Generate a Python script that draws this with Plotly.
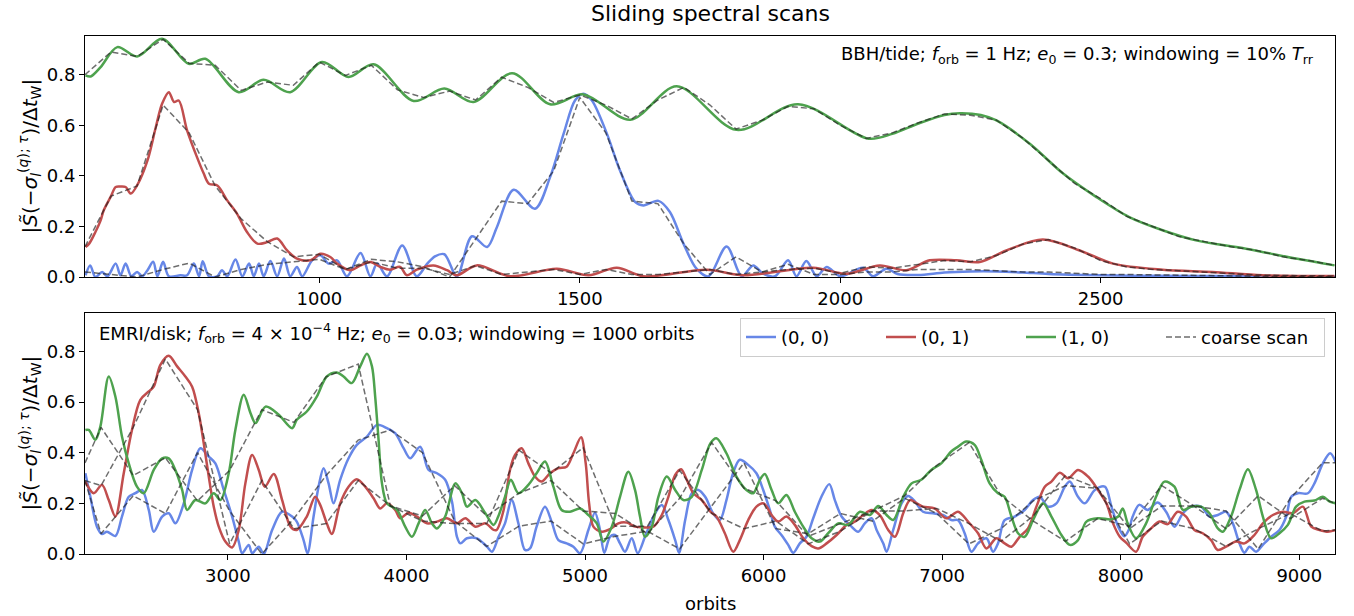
import plotly.graph_objects as go

# ---------------- data: top panel (BBH/tide) ----------------
top_00 = [(551,0.007),(560,0.046),(570,0.0),(583,0.02),(593,0.003),(609,0.053),(618,0.007),(628,0.053),
          (639,0.003),(650,0.02),(660,0.003),(670,0.027),(681,0.06),(689,0.003),(700,0.06),(711,0.003),
          (733,0.007),(746,0.007),(759,0.053),(769,0.003),(776,0.062),(788,0.003),(804,0.003),(813,0.027),
          (823,0.003),(839,0.069),(852,0.003),(865,0.053),(874,0.003),(884,0.053),(893,0.003),(906,0.063),
          (919,0.003),(932,0.073),(944,0.003),(957,0.04),(967,0.003),(986,0.066),(1002,0.086),(1018,0.053),
          (1034,0.066),(1053,0.003),(1079,0.095),(1098,0.003),(1111,0.053),(1130,0.003),(1159,0.125),
          (1187,0.003),(1207,0.053),(1222,0.082),(1240,0.09),(1264,0.003),(1293,0.161),(1322,0.119),
          (1341,0.198),(1373,0.345),(1414,0.270),(1443,0.395),(1469,0.567),(1491,0.699),(1507,0.725),
          (1523,0.699),(1552,0.567),(1577,0.422),(1606,0.297),(1622,0.283),(1651,0.301),(1673,0.257),
          (1699,0.132),(1724,0.033),(1747,0.003),(1782,0.121),(1811,0.003),(1833,0.046),(1852,0.013),
          (1875,0.003),(1900,0.066),(1916,0.003),(1935,0.063),(1955,0.003),(1974,0.040),(2000,0.003),
          (2044,0.037),(2063,0.003),(2089,0.033),(2110,0.012),(2150,0.008),(2200,0.018),(2250,0.022),
          (2300,0.022),(2350,0.018),(2400,0.012),(2500,0.007),(2600,0.005),(2750,0.004),(2950,0.001)]
top_01 = [(551,0.119),(558,0.132),(570,0.178),(580,0.224),(586,0.264),(599,0.316),(609,0.356),(618,0.358),
          (628,0.356),(638,0.330),(650,0.362),(670,0.461),(686,0.593),(698,0.685),(711,0.731),(721,0.692),
          (730,0.698),(746,0.580),(765,0.474),(778,0.409),(788,0.369),(804,0.362),(823,0.303),(842,0.250),
          (861,0.178),(881,0.132),(900,0.138),(919,0.152),(938,0.105),(957,0.073),(983,0.066),(1002,0.092),
          (1021,0.079),(1034,0.053),(1059,0.027),(1079,0.046),(1098,0.059),(1117,0.040),(1136,0.029),
          (1155,0.040),(1168,0.007),(1187,0.029),(1219,0.046),(1245,0.027),(1264,0.007),(1302,0.046),
          (1366,0.003),(1456,0.033),(1517,0.007),(1571,0.037),(1622,0.003),(1744,0.029),(1814,0.007),
          (1948,0.037),(2012,0.013),(2076,0.046),(2127,0.027),(2172,0.066),(2223,0.066),(2268,0.059),
          (2319,0.105),(2389,0.148),(2460,0.105),(2524,0.053),(2619,0.029),(2715,0.020),(2811,0.007),
          (2949,0.004)]
top_10 = [(551,0.797),(561,0.793),(580,0.83),(612,0.909),(650,0.872),(698,0.942),(749,0.843),(781,0.863),
          (845,0.731),(893,0.780),(944,0.731),(1005,0.850),(1056,0.791),(1104,0.841),(1181,0.696),
          (1240,0.745),(1296,0.692),(1370,0.806),(1443,0.683),(1507,0.722),(1597,0.622),(1686,0.754),
          (1801,0.582),(1919,0.683),(2054,0.547),(2100,0.566),(2150,0.607),(2200,0.641),(2230,0.648),
          (2270,0.641),(2300,0.619),(2364,0.527),(2428,0.409),(2492,0.316),(2555,0.237),(2619,0.185),
          (2683,0.145),(2779,0.112),(2875,0.073),(2949,0.046)]
top_coarse_x = list(range(550, 2951, 50))
top_coarse_00 = [0.02,0.01,0.0,0.03,0.055,0.0,0.03,0.05,0.06,0.07,0.03,0.07,0.06,0.04,0.0,0.15,0.30,0.29,
                 0.42,0.71,0.57,0.30,0.29,0.13,0.01,0.08,0.02,0.05,0.01,0.01,0.02,0.02,0.03,0.03,0.03,
                 0.025,0.02,0.02,0.015,0.01,0.01,0.008,0.006,0.005,0.004,0.003,0.002,0.001,0.001]
top_coarse_01 = [0.12,0.32,0.36,0.68,0.57,0.36,0.23,0.14,0.08,0.09,0.03,0.06,0.035,0.035,0.01,0.045,0.01,
                 0.02,0.03,0.01,0.03,0.01,0.01,0.02,0.03,0.01,0.02,0.03,0.035,0.015,0.04,0.035,0.05,
                 0.065,0.06,0.085,0.13,0.148,0.115,0.065,0.04,0.03,0.025,0.02,0.013,0.008,0.006,0.005,0.004]
top_coarse_10 = [0.80,0.89,0.872,0.94,0.845,0.837,0.738,0.771,0.758,0.85,0.797,0.837,0.74,0.71,0.735,0.70,
                 0.79,0.75,0.69,0.72,0.68,0.625,0.70,0.75,0.68,0.585,0.62,0.675,0.665,0.60,0.548,0.57,
                 0.61,0.645,0.64,0.62,0.55,0.46,0.37,0.31,0.24,0.20,0.16,0.14,0.12,0.105,0.08,0.065,0.046]

# ---------------- data: bottom panel (EMRI/disk) ----------------
bot_00 = [(2202,0.319),(2230,0.226),(2267,0.108),(2295,0.079),(2323,0.088),(2370,0.071),(2407,0.148),
          (2445,0.226),(2482,0.240),(2519,0.253),(2557,0.174),(2585,0.088),(2632,0.148),(2669,0.161),
          (2706,0.121),(2753,0.200),(2800,0.332),(2846,0.418),(2893,0.385),(2930,0.358),(2977,0.253),
          (3024,0.148),(3061,0.049),(3080,0.003),(3117,0.036),(3136,0.003),(3173,0.029),(3201,0.0),
          (3248,0.095),(3304,0.167),(3360,0.148),(3386,0.128),(3424,0.055),(3446,0.003),(3480,0.148),
          (3508,0.266),(3536,0.339),(3564,0.279),(3592,0.200),(3629,0.293),(3676,0.378),(3722,0.431),
          (3779,0.464),(3835,0.510),(3891,0.497),(3937,0.477),(3984,0.418),(4021,0.378),(4077,0.424),
          (4124,0.332),(4171,0.319),(4217,0.293),(4255,0.207),(4283,0.068),(4302,0.042),(4339,0.062),
          (4395,0.062),(4451,0.029),(4479,0.009),(4516,0.068),(4552,0.121),(4589,0.213),(4627,0.121),
          (4664,0.016),(4692,0.022),(4729,0.108),(4776,0.187),(4813,0.128),(4851,0.055),(4897,0.042),
          (4935,0.029),(4972,0.003),(5019,0.095),(5056,0.163),(5084,0.095),(5108,0.005),(5140,0.068),
          (5168,0.075),(5196,0.042),(5224,0.009),(5262,0.062),(5295,0.003),(5336,0.068),(5383,0.148),
          (5430,0.194),(5467,0.134),(5505,0.055),(5527,0.005),(5561,0.134),(5598,0.240),(5635,0.253),
          (5673,0.226),(5717,0.161),(5755,0.134),(5792,0.213),(5829,0.319),(5867,0.372),(5914,0.352),
          (5960,0.319),(5998,0.253),(6035,0.174),(6063,0.108),(6100,0.075),(6138,0.036),(6166,0.005),
          (6203,0.042),(6240,0.068),(6278,0.141),(6324,0.226),(6368,0.276),(6399,0.213),(6437,0.148),
          (6483,0.115),(6530,0.088),(6567,0.121),(6605,0.141),(6633,0.095),(6670,0.042),(6689,0.009),
          (6726,0.095),(6773,0.200),(6810,0.229),(6848,0.207),(6893,0.167),(6949,0.161),(7005,0.154),
          (7051,0.134),(7089,0.134),(7126,0.082),(7164,0.009),(7201,0.042),(7248,0.062),(7285,0.009),
          (7313,0.042),(7350,0.134),(7406,0.148),(7462,0.174),(7509,0.213),(7547,0.226),(7593,0.187),
          (7640,0.200),(7687,0.266),(7715,0.286),(7761,0.226),(7799,0.200),(7855,0.253),(7911,0.266),
          (7948,0.187),(7986,0.108),(8020,0.070),(8045,0.095),(8067,0.148),(8104,0.194),(8151,0.174),
          (8207,0.203),(8254,0.167),(8301,0.108),(8348,0.161),(8394,0.187),(8450,0.187),(8497,0.148),
          (8544,0.154),(8590,0.167),(8628,0.121),(8665,0.042),(8693,0.005),(8721,0.029),(8758,0.009),
          (8796,0.036),(8842,0.068),(8889,0.095),(8927,0.148),(8955,0.226),(8992,0.240),(9048,0.240),
          (9085,0.279),(9132,0.358),(9173,0.398),(9207,0.358)]
bot_01 = [(2202,0.286),(2249,0.240),(2295,0.273),(2333,0.213),(2370,0.148),(2417,0.319),(2463,0.490),
          (2510,0.609),(2557,0.642),(2585,0.661),(2622,0.747),(2669,0.783),(2716,0.741),(2762,0.701),
          (2800,0.661),(2837,0.556),(2865,0.437),(2893,0.306),(2921,0.187),(2949,0.108),(2986,0.049),
          (3024,0.026),(3061,0.095),(3098,0.279),(3136,0.391),(3173,0.332),(3207,0.266),(3257,0.316),
          (3304,0.213),(3351,0.108),(3386,0.095),(3442,0.148),(3489,0.226),(3517,0.194),(3554,0.121),
          (3582,0.079),(3629,0.200),(3676,0.266),(3722,0.295),(3769,0.266),(3816,0.220),(3853,0.180),
          (3891,0.200),(3937,0.174),(3965,0.141),(4012,0.163),(4059,0.148),(4115,0.121),(4171,0.128),
          (4227,0.141),(4283,0.121),(4330,0.141),(4386,0.108),(4442,0.121),(4488,0.095),(4505,0.095),
          (4543,0.170),(4580,0.332),(4608,0.391),(4645,0.418),(4683,0.358),(4720,0.306),(4757,0.286),
          (4804,0.319),(4851,0.339),(4897,0.345),(4935,0.398),(4978,0.461),(5004,0.358),(5023,0.200),
          (5047,0.108),(5094,0.088),(5140,0.098),(5187,0.121),(5234,0.124),(5280,0.108),(5336,0.105),
          (5383,0.108),(5430,0.154),(5467,0.226),(5505,0.312),(5538,0.335),(5570,0.293),(5607,0.240),
          (5654,0.213),(5702,0.167),(5736,0.148),(5783,0.082),(5830,0.009),(5867,0.055),(5914,0.134),
          (5960,0.187),(6001,0.200),(6045,0.154),(6082,0.128),(6128,0.148),(6175,0.115),(6222,0.062),
          (6269,0.031),(6306,0.022),(6353,0.042),(6409,0.075),(6465,0.115),(6511,0.128),(6558,0.154),
          (6605,0.174),(6651,0.154),(6698,0.095),(6736,0.068),(6782,0.161),(6820,0.213),(6858,0.200),
          (6893,0.187),(6958,0.180),(7023,0.141),(7089,0.167),(7145,0.128),(7201,0.082),(7248,0.022),
          (7304,0.062),(7350,0.042),(7388,0.029),(7434,0.068),(7481,0.101),(7528,0.187),(7575,0.266),
          (7612,0.286),(7659,0.321),(7705,0.299),(7761,0.332),(7817,0.306),(7873,0.253),(7920,0.200),
          (7957,0.121),(7995,0.068),(8030,0.045),(8086,0.009),(8123,0.068),(8170,0.101),(8217,0.128),
          (8263,0.118),(8319,0.167),(8366,0.148),(8413,0.095),(8459,0.082),(8506,0.055),(8543,0.016),
          (8590,0.029),(8646,0.049),(8693,0.042),(8749,0.075),(8796,0.121),(8852,0.154),(8908,0.167),
          (8964,0.161),(9020,0.187),(9067,0.108),(9113,0.095),(9160,0.088),(9207,0.095)]
bot_10 = [(2202,0.490),(2221,0.490),(2258,0.451),(2286,0.503),(2333,0.701),(2370,0.622),(2407,0.464),
          (2445,0.358),(2491,0.266),(2529,0.240),(2585,0.332),(2632,0.378),(2669,0.378),(2706,0.332),
          (2744,0.253),(2772,0.174),(2818,0.213),(2874,0.200),(2921,0.240),(2958,0.213),(3005,0.319),
          (3042,0.490),(3089,0.629),(3127,0.556),(3155,0.517),(3211,0.582),(3285,0.550),(3360,0.497),
          (3386,0.530),(3442,0.563),(3498,0.622),(3554,0.701),(3610,0.717),(3648,0.701),(3694,0.675),
          (3741,0.741),(3779,0.791),(3807,0.741),(3825,0.622),(3844,0.451),(3863,0.279),(3891,0.200),
          (3947,0.174),(3993,0.108),(4031,0.068),(4068,0.121),(4105,0.174),(4143,0.121),(4171,0.101),
          (4217,0.148),(4274,0.279),(4311,0.240),(4339,0.187),(4386,0.213),(4442,0.161),(4488,0.115),
          (4514,0.148),(4552,0.226),(4585,0.293),(4627,0.240),(4683,0.273),(4729,0.319),(4776,0.365),
          (4823,0.266),(4869,0.174),(4916,0.167),(4972,0.180),(5019,0.154),(5066,0.121),(5103,0.049),
          (5150,0.108),(5196,0.226),(5243,0.325),(5280,0.253),(5308,0.148),(5336,0.068),(5374,0.108),
          (5411,0.226),(5458,0.306),(5505,0.253),(5551,0.213),(5598,0.226),(5654,0.332),(5702,0.437),
          (5736,0.457),(5792,0.398),(5848,0.306),(5904,0.253),(5942,0.240),(5979,0.293),(6007,0.316),
          (6045,0.253),(6082,0.200),(6128,0.233),(6175,0.167),(6222,0.108),(6269,0.062),(6315,0.049),
          (6362,0.082),(6418,0.121),(6474,0.115),(6540,0.167),(6595,0.154),(6642,0.190),(6689,0.154),
          (6726,0.134),(6782,0.226),(6829,0.279),(6883,0.293),(6939,0.332),(6995,0.358),(7051,0.405),
          (7089,0.424),(7135,0.444),(7182,0.431),(7219,0.372),(7266,0.279),(7313,0.240),(7350,0.226),
          (7388,0.148),(7425,0.082),(7462,0.068),(7509,0.134),(7565,0.200),(7612,0.148),(7668,0.075),
          (7715,0.036),(7761,0.055),(7808,0.128),(7873,0.141),(7948,0.137),(7986,0.148),(8011,0.180),
          (8039,0.121),(8086,0.062),(8142,0.121),(8198,0.226),(8245,0.286),(8301,0.266),(8348,0.174),
          (8394,0.187),(8450,0.187),(8497,0.161),(8544,0.101),(8572,0.088),(8618,0.148),(8665,0.253),
          (8712,0.335),(8758,0.253),(8796,0.148),(8842,0.062),(8889,0.082),(8936,0.115),(8982,0.187),
          (9029,0.207),(9085,0.211),(9132,0.226),(9170,0.207),(9207,0.200)]
bot_coarse_x = [2200] + list(range(2290, 9131, 180)) + [9200]
bot_coarse_00 = [0.29,0.08,0.23,0.16,0.40,0.17,0.0,0.14,0.31,0.45,0.49,0.40,0.13,0.03,0.11,0.13,0.04,
                 0.07,0.09,0.02,0.19,0.36,0.10,0.08,0.16,0.13,0.22,0.16,0.04,0.10,0.21,0.27,0.26,0.10,
                 0.19,0.19,0.17,0.02,0.22,0.36,0.36]
bot_coarse_01 = [0.29,0.27,0.50,0.77,0.57,0.04,0.29,0.10,0.12,0.29,0.19,0.13,0.12,0.12,0.41,0.32,0.42,
                 0.11,0.11,0.33,0.16,0.10,0.13,0.04,0.09,0.17,0.17,0.18,0.12,0.05,0.15,0.31,0.26,0.04,
                 0.13,0.10,0.03,0.10,0.16,0.09,0.095]
bot_coarse_10 = [0.36,0.50,0.31,0.38,0.21,0.33,0.57,0.52,0.70,0.75,0.19,0.15,0.27,0.15,0.24,0.29,0.17,
                 0.16,0.08,0.22,0.44,0.26,0.21,0.07,0.12,0.17,0.23,0.35,0.44,0.23,0.13,0.05,0.14,0.11,
                 0.27,0.19,0.10,0.23,0.14,0.22,0.20]

mode_labels = ["(0, 0)", "(0, 1)", "(1, 0)"]
mode_colors = ["#6787e7", "#c14e4e", "#4ea24e"]
coarse_color = "rgba(30,30,30,0.65)"

FONT = "DejaVu Sans, Liberation Sans, sans-serif"
FS = 18

fig = go.Figure()

def xs(pairs):
    return [p[0] for p in pairs]

def ys(pairs):
    return [p[1] for p in pairs]

# top panel
for pairs, lab, col in zip([top_00, top_01, top_10], mode_labels, mode_colors):
    fig.add_trace(go.Scatter(x=xs(pairs), y=ys(pairs), mode="lines", name=lab,
                             line=dict(color=col, width=2.5, shape="spline", smoothing=0.9),
                             xaxis="x", yaxis="y", showlegend=False))
for vals in [top_coarse_00, top_coarse_01, top_coarse_10]:
    fig.add_trace(go.Scatter(x=top_coarse_x, y=vals, mode="lines", name="coarse scan",
                             line=dict(color=coarse_color, width=1.5, dash="6px,3px"),
                             xaxis="x", yaxis="y", showlegend=False))

# bottom panel
for pairs, lab, col in zip([bot_00, bot_01, bot_10], mode_labels, mode_colors):
    fig.add_trace(go.Scatter(x=xs(pairs), y=ys(pairs), mode="lines", name=lab,
                             line=dict(color=col, width=2.5, shape="spline", smoothing=0.9),
                             xaxis="x2", yaxis="y2", showlegend=True))
for i, vals in enumerate([bot_coarse_00, bot_coarse_01, bot_coarse_10]):
    fig.add_trace(go.Scatter(x=bot_coarse_x, y=vals, mode="lines", name="coarse scan",
                             line=dict(color=coarse_color, width=1.5, dash="6px,3px"),
                             xaxis="x2", yaxis="y2", showlegend=(i == 0), legendwidth=118))

axis_common = dict(showline=True, linecolor="black", linewidth=1, mirror=True,
                   ticks="outside", ticklen=5, tickwidth=1, tickcolor="black",
                   showgrid=False, zeroline=False,
                   tickfont=dict(family=FONT, size=FS, color="black"))

fig.update_layout(
    width=1354, height=616,
    margin=dict(l=85, r=19, t=36, b=62),
    paper_bgcolor="white", plot_bgcolor="white",
    font=dict(family=FONT, size=FS, color="black"),
    xaxis=dict(domain=[0, 1], anchor="y", range=[550, 2950],
               tickvals=[1000, 1500, 2000, 2500], **axis_common),
    yaxis=dict(domain=[0.5347, 1], anchor="x", range=[0, 0.953],
               tickvals=[0, 0.2, 0.4, 0.6, 0.8], tickformat=".1f", **axis_common),
    xaxis2=dict(domain=[0, 1], anchor="y2", range=[2200, 9200],
                tickvals=[3000, 4000, 5000, 6000, 7000, 8000, 9000], **axis_common),
    yaxis2=dict(domain=[0, 0.4653], anchor="x2", range=[0, 0.952],
                tickvals=[0, 0.2, 0.4, 0.6, 0.8], tickformat=".1f", **axis_common),
    legend=dict(orientation="h", x=0.992, xanchor="right", y=0.456, yanchor="top",
                bgcolor="rgba(255,255,255,0.8)", bordercolor="#cccccc", borderwidth=1,
                font=dict(family=FONT, size=FS, color="black"),
                entrywidth=95, entrywidthmode="pixels", itemwidth=30,
                traceorder="normal"),
    showlegend=True,
)

ylab = ("|<i>S̃</i>(−<i>σ</i><sub><i>l</i></sub><sup>(<i>q</i>); <i>τ</i></sup>)/Δ<i>t</i><sub>W</sub>|")
fig.add_annotation(text="Sliding spectral scans", xref="paper", yref="paper", x=0.5, y=1.0425,
                   showarrow=False, xanchor="center", yanchor="middle",
                   font=dict(family=FONT, size=22, color="black"))
fig.add_annotation(text=ylab, xref="paper", yref="paper", x=-0.044, y=0.7673, textangle=-90,
                   showarrow=False, xanchor="center", yanchor="middle",
                   font=dict(family=FONT, size=20, color="black"))
fig.add_annotation(text=ylab, xref="paper", yref="paper", x=-0.044, y=0.2327, textangle=-90,
                   showarrow=False, xanchor="center", yanchor="middle",
                   font=dict(family=FONT, size=20, color="black"))
fig.add_annotation(text="orbits", xref="paper", yref="paper", x=0.5, y=-0.0946,
                   showarrow=False, xanchor="center", yanchor="middle",
                   font=dict(family=FONT, size=FS, color="black"))
fig.add_annotation(text=("BBH/tide; <i>f</i><sub>orb</sub> = 1 Hz; <i>e</i><sub>0</sub> = 0.3; "
                         "windowing = 10% <i>T</i><sub>rr</sub>"),
                   xref="paper", yref="paper", x=0.985, y=0.963, showarrow=False,
                   xanchor="right", yanchor="middle", font=dict(family=FONT, size=FS, color="black"))
fig.add_annotation(text=("EMRI/disk; <i>f</i><sub>orb</sub> = 4 × 10<sup>−4</sup> Hz; "
                         "<i>e</i><sub>0</sub> = 0.03; windowing = 1000 orbits"),
                   xref="paper", yref="paper", x=0.0096, y=0.4266, showarrow=False,
                   xanchor="left", yanchor="middle", font=dict(family=FONT, size=FS, color="black"))

fig.write_html("out.html")
